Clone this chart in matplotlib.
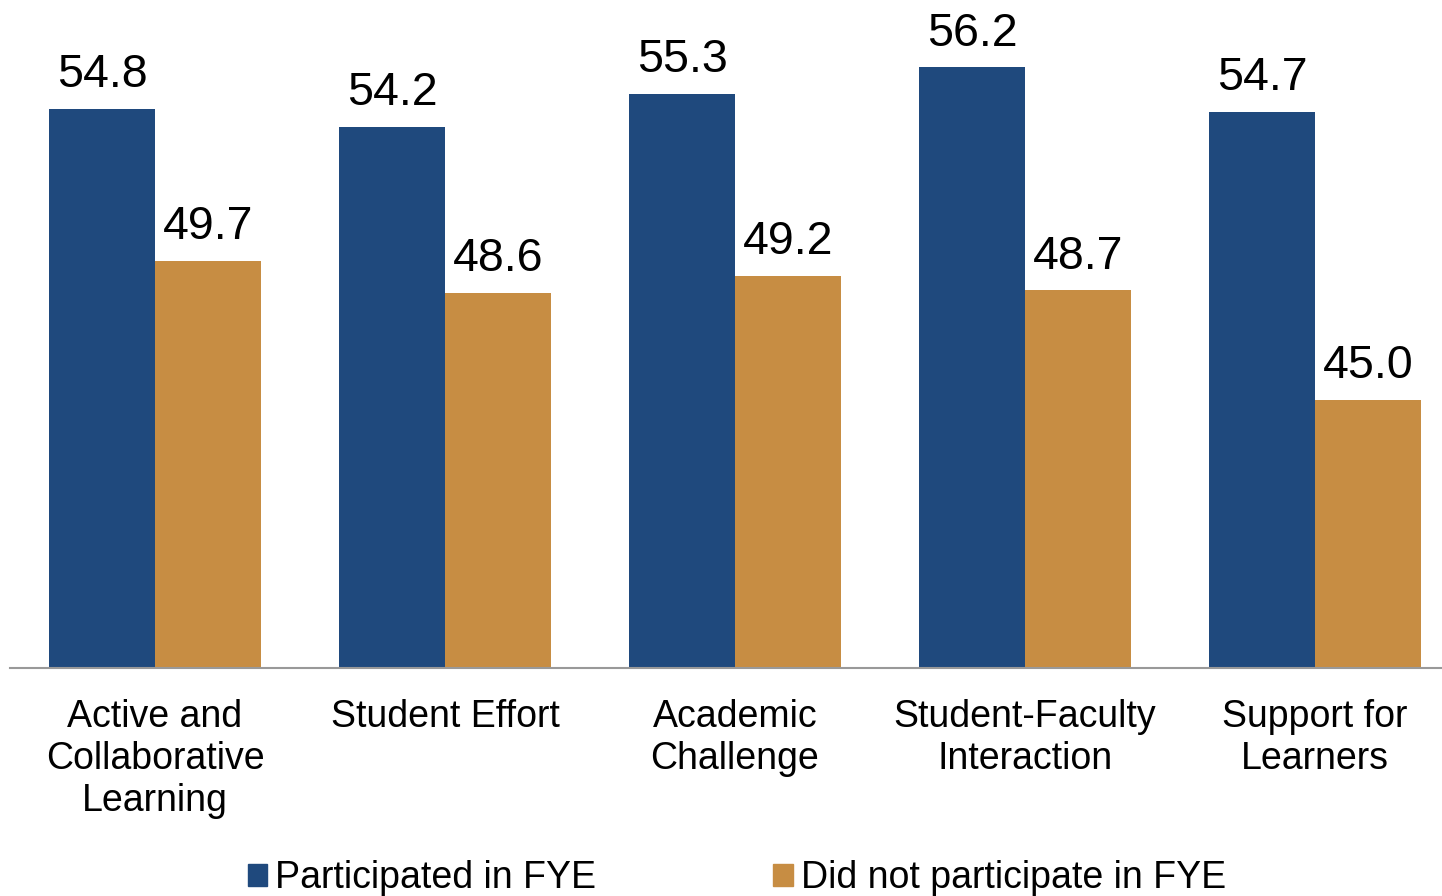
import numpy as np
import matplotlib
matplotlib.use("Agg")
import matplotlib.pyplot as plt
from matplotlib.patches import Patch

plt.rcParams["font.family"] = ["Liberation Sans", "DejaVu Sans"]

categories = ["Active and\nCollaborative\nLearning", "Student Effort",
              "Academic\nChallenge", "Student-Faculty\nInteraction",
              "Support for\nLearners"]
participated = [54.8, 54.2, 55.3, 56.2, 54.7]
not_participated = [49.7, 48.6, 49.2, 48.7, 45.0]
series_names = ["Participated in FYE", "Did not participate in FYE"]

BLUE = "#1F497D"
GOLD = "#C78D43"

fig = plt.figure(figsize=(14.42, 8.96), dpi=100)
# axes runs slightly past the right edge, as in the original
ax = fig.add_axes([10 / 1442, 228 / 896, 1450 / 1442, 668 / 896])

x = np.arange(len(categories))
w = 0.364
b1 = ax.bar(x - w / 2, participated, w, color=BLUE, zorder=2)
b2 = ax.bar(x + w / 2, not_participated, w, color=GOLD, zorder=2)

for bars, vals in ((b1, participated), (b2, not_participated)):
    for rect, v in zip(bars, vals):
        ax.annotate(f"{v:.1f}", (rect.get_x() + rect.get_width() / 2, v),
                    xytext=(0, 15.8), textcoords="offset points",
                    ha="center", va="baseline", fontsize=33.5)

ax.set_xlim(-0.5, len(categories) - 0.5)
ax.set_ylim(36.0, 58.47)
ax.set_yticks([])
ax.set_xticks(x)
ax.set_xticklabels(categories, fontsize=27, linespacing=1.22)
ax.tick_params(axis="x", length=0, pad=22)
for s in ("top", "right", "left"):
    ax.spines[s].set_visible(False)
ax.spines["bottom"].set_color("#999999")
ax.spines["bottom"].set_linewidth(1.5)
ax.spines["bottom"].set_zorder(3)

handles = [Patch(color=BLUE), Patch(color=GOLD)]
fig.legend(handles, series_names, loc="lower center",
           bbox_to_anchor=(0.511, 0.0), ncol=2, frameon=False,
           fontsize=27, handlelength=0.51, handleheight=0.51,
           handletextpad=0.22, columnspacing=4.73, borderpad=0,
           borderaxespad=0)

fig.savefig("out.png", dpi=100)
